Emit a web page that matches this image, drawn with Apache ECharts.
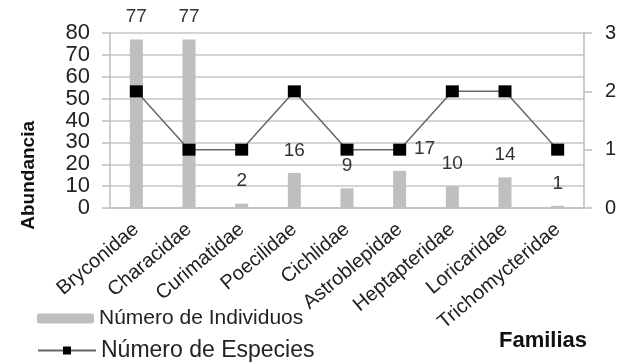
<!DOCTYPE html>
<html>
<head>
<meta charset="utf-8">
<script src="https://cdn.jsdelivr.net/npm/echarts@6/dist/echarts.min.js"></script>
<style>
  html, body { margin: 0; padding: 0; background: #ffffff; }
  #chart { width: 620px; height: 363px; }
</style>
</head>
<body>
<div id="chart"></div>
<script>
// Fish families sampled, with abundance (individuals) and species count
const familias = ['Bryconidae', 'Characidae', 'Curimatidae', 'Poecilidae', 'Cichlidae',
  'Astroblepidae', 'Heptapteridae', 'Loricaridae', 'Trichomycteridae'];
const individuos = [77, 77, 2, 16, 9, 17, 10, 14, 1];
const especies = [2, 1, 1, 2, 1, 1, 2, 2, 1];
const abundanciaTicks = [0, 10, 20, 30, 40, 50, 60, 70, 80];
const especiesTicks = [0, 1, 2, 3];

const FONT = "'Liberation Sans', Arial, sans-serif";
const chart = echarts.init(document.getElementById('chart'), null, { renderer: 'canvas' });

// Bar value labels: the one for Astroblepidae is nudged right, clear of the marker
const barData = individuos.map((v, i) => {
  const item = { value: v };
  if (familias[i] === 'Astroblepidae') item.label = { offset: [25, 0] };
  return item;
});

chart.setOption({
  animation: false,
  backgroundColor: '#ffffff',
  textStyle: { fontFamily: FONT },
  grid: { left: 110, right: 36, top: 33, bottom: 155, containLabel: false },
  legend: [
    {
      left: 32, top: 303,
      itemWidth: 57, itemHeight: 10,
      textStyle: { fontFamily: FONT, fontSize: 21, color: '#222' },
      data: ['Número de Individuos']
    },
    {
      left: 32, top: 334,
      itemWidth: 58, itemHeight: 10,
      textStyle: { fontFamily: FONT, fontSize: 23, color: '#222' },
      data: ['Número de Especies']
    }
  ],
  xAxis: {
    type: 'category',
    data: familias,
    boundaryGap: true,
    axisLine: { show: true, lineStyle: { color: '#bdbdbd', width: 1.5 } },
    axisTick: { show: false },
    axisLabel: { rotate: 40, margin: 19, fontSize: 20, color: '#222', fontFamily: FONT, interval: 0 },
    splitLine: { show: false }
  },
  yAxis: [
    {
      type: 'value',
      min: abundanciaTicks[0],
      max: abundanciaTicks[abundanciaTicks.length - 1],
      interval: abundanciaTicks[1] - abundanciaTicks[0],
      axisLine: { show: true, lineStyle: { color: '#bdbdbd', width: 1.5 } },
      axisTick: { show: true, inside: false, length: 8, lineStyle: { color: '#bdbdbd', width: 1.5 } },
      axisLabel: { margin: 20, fontSize: 22, color: '#222', fontFamily: FONT },
      splitLine: { show: true, lineStyle: { color: '#c6c6c6', width: 1.5 } }
    },
    {
      type: 'value',
      position: 'right',
      min: especiesTicks[0],
      max: especiesTicks[especiesTicks.length - 1],
      interval: especiesTicks[1] - especiesTicks[0],
      axisLine: { show: true, lineStyle: { color: '#bdbdbd', width: 1.5 } },
      axisTick: { show: true, inside: false, length: 8, lineStyle: { color: '#bdbdbd', width: 1.5 } },
      axisLabel: { margin: 21, fontSize: 20, color: '#222', fontFamily: FONT },
      splitLine: { show: false }
    }
  ],
  series: [
    {
      name: 'Número de Individuos',
      type: 'bar',
      yAxisIndex: 0,
      barWidth: 13,
      data: barData,
      itemStyle: { color: '#bfbfbf' },
      label: { show: true, position: 'top', distance: 13, fontSize: 19, color: '#333', fontFamily: FONT },
      z: 2
    },
    {
      name: 'Número de Especies',
      type: 'line',
      yAxisIndex: 1,
      data: especies,
      symbol: 'rect',
      symbolSize: [13, 12],
      itemStyle: { color: '#000000' },
      lineStyle: { color: '#666666', width: 1.5 },
      z: 3
    }
  ],
  graphic: [
    {
      type: 'text',
      left: 19,
      top: 121,
      rotation: Math.PI / 2,
      style: { text: 'Abundancia', font: "bold 19px " + FONT, fill: '#111' }
    },
    {
      type: 'text',
      left: 499,
      top: 330,
      style: { text: 'Familias', font: "bold 22px " + FONT, fill: '#111' }
    }
  ]
});
</script>
</body>
</html>
